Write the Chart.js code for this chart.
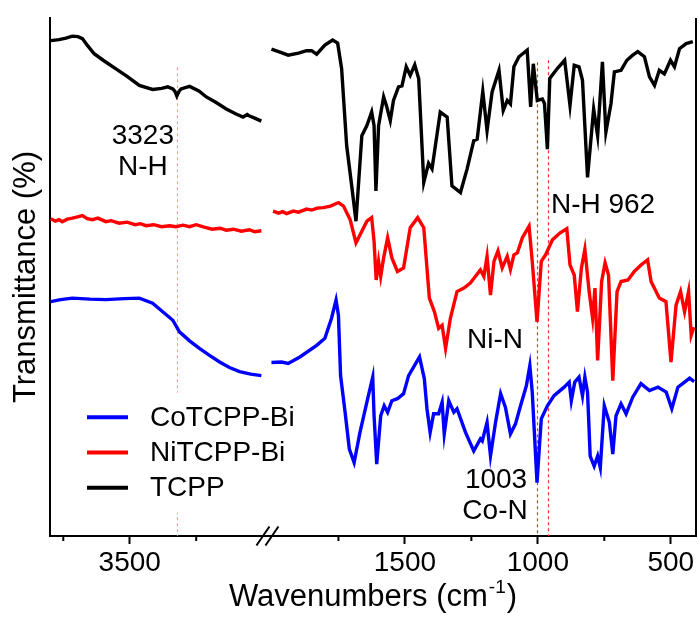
<!DOCTYPE html>
<html>
<head>
<meta charset="utf-8">
<script src="https://cdn.jsdelivr.net/npm/chart.js@4.4.0/dist/chart.umd.min.js"></script>
<style>
  html, body { margin: 0; padding: 0; background: #fff; }
  #wrap { width: 699px; height: 617px; }
</style>
</head>
<body>
<div id="wrap"><canvas id="ftir"></canvas></div>
<script>
// FTIR spectra, wavenumber (cm-1) vs transmittance (offset, arbitrary units)
const tcppWn = [3797, 3766, 3740, 3716, 3695, 3678, 3660, 3634, 3600, 3552, 3510, 3464, 3414, 3380, 3357, 3338, 3330, 3323, 3315, 3307, 3275, 3240, 3212, 3175, 3137, 3100, 3074, 3058, 3049, 3030, 3005,
  2002, 1970, 1939, 1900, 1870, 1851, 1832, 1801, 1772, 1753, 1738, 1719, 1700, 1684, 1662, 1643, 1625, 1616, 1609, 1599, 1580, 1568, 1555, 1543, 1524, 1511, 1495, 1480, 1463, 1448, 1429, 1411, 1398, 1367, 1341, 1323, 1291, 1266, 1241, 1228, 1207, 1191, 1172, 1146, 1130, 1115, 1103, 1090, 1071, 1040, 1027, 1017, 1002, 983, 975, 964, 955, 926, 899, 879, 863, 845, 832, 813, 790, 775, 757, 744, 725, 712, 687, 665, 643, 624, 599, 580, 561, 543, 524, 501, 486, 467, 442, 417];
const tcppT = [98.5, 98.7, 99.0, 99.4, 99.3, 98.9, 97.6, 95.9, 94.6, 92.9, 91.4, 89.6, 88.8, 89.0, 89.3, 88.9, 88.4, 87.5, 88.4, 88.9, 89.4, 88.5, 87.3, 86.2, 84.9, 83.9, 83.3, 83.8, 83.5, 83.1, 82.5,
  96.8, 96.2, 95.6, 96.0, 96.5, 96.5, 95.8, 97.6, 98.6, 98.0, 92.9, 77.6, 69.6, 62.6, 79.6, 81.6, 84.3, 81.6, 68.6, 81.6, 87.3, 85.3, 82.6, 86.6, 89.3, 89.5, 93.3, 91.6, 93.7, 90.9, 70.3, 74.1, 73.0, 84.3, 83.3, 69.6, 68.3, 73.0, 78.6, 78.9, 88.4, 80.6, 88.3, 92.6, 84.6, 86.6, 85.9, 93.3, 95.3, 96.6, 85.3, 93.9, 86.6, 86.9, 86.0, 76.9, 91.0, 93.0, 94.6, 85.6, 93.6, 93.3, 90.6, 71.3, 84.9, 79.6, 94.3, 80.3, 85.9, 92.3, 92.6, 94.6, 95.6, 96.3, 95.3, 91.3, 89.6, 92.6, 91.9, 94.6, 93.3, 96.9, 97.9, 98.3];

const niWn = [3797, 3780, 3766, 3754, 3735, 3716, 3700, 3678, 3660, 3640, 3620, 3590, 3570, 3540, 3510, 3480, 3460, 3439, 3410, 3380, 3350, 3326, 3300, 3275, 3250, 3220, 3190, 3160, 3137, 3110, 3080, 3050, 3030, 3005,
  1996, 1975, 1960, 1945, 1920, 1900, 1870, 1850, 1830, 1807, 1780, 1750, 1731, 1706, 1684, 1662, 1643, 1625, 1616, 1608, 1599, 1591, 1580, 1565, 1549, 1528, 1505, 1480, 1452, 1429, 1408, 1389, 1373, 1360, 1347, 1329, 1304, 1278, 1254, 1235, 1216, 1203, 1191, 1178, 1165, 1150, 1134, 1115, 1103, 1090, 1077, 1058, 1033, 1021, 1003, 987, 971, 945, 916, 891, 879, 863, 851, 836, 823, 807, 794, 785, 775, 760, 747, 734, 718, 702, 687, 661, 637, 612, 587, 574, 543, 518, 499, 480, 463, 448, 433, 423, 413];
const niT = [63.1, 62.6, 62.9, 62.5, 63.0, 63.2, 63.4, 63.7, 63.1, 62.9, 63.2, 62.5, 62.7, 62.2, 62.4, 61.9, 62.1, 61.7, 61.9, 61.5, 61.7, 61.5, 61.8, 61.5, 61.9, 61.4, 61.0, 61.2, 60.8, 61.0, 60.6, 60.9, 60.5, 60.7,
  64.6, 64.2, 64.5, 64.1, 64.6, 64.4, 65.0, 64.8, 65.2, 65.3, 65.6, 66.3, 65.6, 62.9, 58.3, 60.6, 62.6, 63.3, 58.6, 50.9, 54.6, 51.6, 55.3, 59.3, 55.3, 52.6, 53.3, 61.3, 63.3, 61.3, 47.3, 44.6, 41.3, 41.9, 37.3, 43.3, 48.6, 49.3, 50.3, 51.6, 52.9, 51.6, 55.6, 47.9, 54.6, 56.7, 53.3, 55.6, 53.0, 55.9, 56.3, 59.3, 61.6, 54.6, 42.6, 54.6, 55.9, 58.9, 60.3, 61.1, 53.9, 51.9, 44.6, 53.3, 57.0, 48.6, 43.3, 49.3, 34.9, 50.6, 54.3, 51.9, 30.9, 48.6, 50.6, 50.9, 52.6, 53.9, 54.9, 50.6, 47.3, 46.6, 34.6, 45.9, 48.6, 44.6, 48.6, 39.9, 41.5];

const coWn = [3797, 3760, 3716, 3650, 3590, 3520, 3464, 3414, 3376, 3338, 3313, 3275, 3238, 3200, 3162, 3125, 3087, 3045, 3005,
  2002, 1964, 1939, 1895, 1832, 1801, 1776, 1759, 1750, 1742, 1725, 1709, 1691, 1669, 1643, 1621, 1616, 1606, 1591, 1578, 1565, 1549, 1528, 1505, 1486, 1445, 1427, 1417, 1405, 1392, 1373, 1360, 1352, 1335, 1316, 1304, 1272, 1241, 1216, 1209, 1191, 1178, 1159, 1140, 1122, 1103, 1084, 1065, 1043, 1030, 1021, 1003, 987, 964, 939, 901, 882, 874, 861, 845, 832, 823, 813, 803, 788, 775, 765, 750, 731, 718, 706, 687, 668, 643, 612, 580, 548, 517, 496, 473, 448, 429, 412];
const coT = [46.6, 47.0, 47.3, 47.1, 47.0, 47.2, 47.3, 46.3, 44.6, 42.9, 40.6, 38.8, 37.3, 35.9, 34.6, 33.5, 32.7, 32.2, 31.9,
  34.5, 34.6, 34.3, 35.6, 37.9, 39.3, 43.3, 46.9, 43.9, 31.9, 24.6, 17.3, 14.6, 20.6, 26.6, 31.6, 23.9, 14.3, 23.9, 25.9, 24.6, 26.9, 27.3, 28.3, 31.9, 35.6, 31.3, 25.3, 20.6, 24.3, 24.3, 26.6, 20.3, 26.9, 24.6, 25.3, 20.6, 16.9, 19.3, 18.9, 22.6, 15.9, 22.6, 28.3, 25.6, 20.3, 22.3, 25.9, 29.9, 33.9, 28.6, 10.6, 23.3, 25.9, 27.9, 29.6, 30.6, 26.9, 30.6, 31.6, 27.9, 31.6, 28.6, 15.9, 13.9, 15.9, 13.6, 25.9, 22.6, 16.3, 23.9, 26.3, 24.3, 27.6, 30.3, 28.9, 29.6, 28.6, 25.3, 29.6, 30.6, 31.4, 30.7];

const majorTicks = [3500, 1500, 1000, 500];
const minorTicks = [3750, 3250, 1750, 1250, 750];
const bands = [3323, 1003, 962];

// broken axis: 3800-3000 on the left, 2000-400 on the right
const SHIFT = 965;
function toAxis(w) { return w > 2500 ? w : w + SHIFT; }
function fromAxis(u) { return u > 2982 ? u : u - SHIFT; }

function series(wn, t) {
  const pts = [];
  wn.forEach((w, i) => {
    if (i > 0 && wn[i - 1] > 2500 && w < 2500) pts.push({ x: 2982, y: null });
    pts.push({ x: toAxis(w), y: t[i] });
  });
  return pts;
}

const FONT = "'Liberation Sans', Arial, sans-serif";
Chart.defaults.font.family = FONT;
Chart.defaults.color = '#000';

const decor = {
  id: 'decor',
  beforeDatasetsDraw(chart) {
    const { ctx, scales: { x, y } } = chart;
    const tops = [93.2, 94.2, 94.6];
    ctx.save();
    ctx.lineWidth = 1.2;
    ctx.setLineDash([3, 3]);
    bands.forEach((b, i) => {
      const px = Math.round(x.getPixelForValue(toAxis(b))) + 0.5;
      ctx.strokeStyle = b > 2500 ? '#ff9c9c' : '#ff2a2a';
      ctx.beginPath();
      ctx.moveTo(px, y.getPixelForValue(tops[i]));
      ctx.lineTo(px, y.bottom);
      ctx.stroke();
    });
    ctx.restore();
  },
  afterDatasetsDraw(chart) {
    const { ctx, scales: { x, y } } = chart;
    ctx.save();
    // legend
    ctx.fillStyle = '#fff';
    ctx.fillRect(58, y.getPixelForValue(28.5), 277, 120);
    chart.data.datasets.forEach((ds, i) => {
      const ly = y.getPixelForValue(23.6 - i * 7);
      ctx.strokeStyle = ds.borderColor;
      ctx.lineWidth = 4;
      ctx.beginPath();
      ctx.moveTo(87, ly);
      ctx.lineTo(128, ly);
      ctx.stroke();
      ctx.fillStyle = '#000';
      ctx.font = '28px ' + FONT;
      ctx.textAlign = 'left';
      ctx.textBaseline = 'middle';
      ctx.fillText(ds.label, 150, ly + 1);
    });
    // band labels
    const notes = [
      ['3323', 3323, -34, 79.6, 'center'],
      ['N-H', 3323, -34, 73.6, 'center'],
      ['N-H 962', 962, 3, 66.0, 'left'],
      ['Ni-N', 1003, -42, 39.2, 'center'],
      ['1003', 1003, -41, 11.2, 'center'],
      ['Co-N', 1003, -42, 5.2, 'center']
    ];
    ctx.fillStyle = '#000';
    ctx.font = '28px ' + FONT;
    ctx.textBaseline = 'middle';
    notes.forEach(n => {
      ctx.textAlign = n[4];
      ctx.fillText(n[0], x.getPixelForValue(toAxis(n[1])) + n[2], y.getPixelForValue(n[3]) + 1);
    });
    ctx.restore();
  },
  afterDraw(chart) {
    const { ctx, chartArea, scales: { x } } = chart;
    const base = x.top;
    ctx.save();
    ctx.strokeStyle = '#000';
    ctx.lineWidth = 2;
    // right frame line
    ctx.beginPath();
    ctx.moveTo(chartArea.right, chartArea.top);
    ctx.lineTo(chartArea.right, chartArea.bottom + 1);
    ctx.stroke();
    minorTicks.forEach(w => {
      const px = x.getPixelForValue(toAxis(w));
      ctx.beginPath();
      ctx.moveTo(px, base);
      ctx.lineTo(px, base + 5);
      ctx.stroke();
    });
    // axis break mark
    const bx = x.getPixelForValue(2982);
    [-4.5, 4.5].forEach(d => {
      ctx.beginPath();
      ctx.moveTo(bx + d - 6.5, base + 9.5);
      ctx.lineTo(bx + d + 6.5, base - 9.5);
      ctx.stroke();
    });
    // x title with superscript
    const main = 'Wavenumbers (cm', sup = '-1', close = ')';
    ctx.fillStyle = '#000';
    ctx.textBaseline = 'alphabetic';
    ctx.textAlign = 'left';
    ctx.font = '31px ' + FONT;
    const w1 = ctx.measureText(main).width, w3 = ctx.measureText(close).width;
    ctx.font = '19px ' + FONT;
    const w2 = ctx.measureText(sup).width;
    const bl = x.bottom - 9;
    let tx = (chartArea.left + chartArea.right) / 2 - (w1 + w2 + w3 + 2) / 2;
    ctx.font = '31px ' + FONT;
    ctx.fillText(main, tx, bl);
    ctx.font = '19px ' + FONT;
    ctx.fillText(sup, tx + w1 + 1, bl - 13);
    ctx.font = '31px ' + FONT;
    ctx.fillText(close, tx + w1 + w2 + 2, bl);
    ctx.restore();
  }
};

new Chart(document.getElementById('ftir'), {
  type: 'line',
  data: {
    datasets: [
      { label: 'CoTCPP-Bi', data: series(coWn, coT), borderColor: '#0000ff', order: 2 },
      { label: 'NiTCPP-Bi', data: series(niWn, niT), borderColor: '#ff0000', order: 1 },
      { label: 'TCPP', data: series(tcppWn, tcppT), borderColor: '#000000', order: 0 }
    ]
  },
  options: {
    responsive: true,
    maintainAspectRatio: false,
    animation: false,
    spanGaps: false,
    elements: {
      point: { radius: 0 },
      line: { borderWidth: 3.4, tension: 0, fill: false }
    },
    layout: { padding: { top: 18, right: 3, left: 5, bottom: 2 } },
    plugins: { legend: { display: false }, tooltip: { enabled: false } },
    scales: {
      x: {
        type: 'linear',
        reverse: true,
        min: 1370,
        max: 3800,
        afterBuildTicks: s => { s.ticks = majorTicks.map(w => ({ value: toAxis(w) })); },
        afterFit: s => { s.paddingRight = 0; s.paddingLeft = 0; },
        ticks: {
          autoSkip: false,
          maxRotation: 0,
          padding: 12,
          font: { size: 28, lineHeight: 0.5 },
          callback: v => String(fromAxis(v))
        },
        grid: { display: true, drawOnChartArea: false, tickLength: 8, tickWidth: 2, tickColor: '#000' },
        border: { display: true, color: '#000', width: 2 },
        title: {
          display: true,
          text: 'Wavenumbers (cm-1)',
          color: 'rgba(0,0,0,0)',
          font: { size: 31, lineHeight: 1 },
          padding: { top: 0, bottom: 2 }
        }
      },
      y: {
        type: 'linear',
        min: 0,
        max: 103,
        ticks: { display: false },
        grid: { display: false },
        border: { display: true, color: '#000', width: 2 },
        title: {
          display: true,
          text: 'Transmittance (%)',
          font: { size: 31, lineHeight: 1 },
          padding: { top: 6, bottom: 0 }
        }
      }
    }
  },
  plugins: [decor]
});
</script>
</body>
</html>
